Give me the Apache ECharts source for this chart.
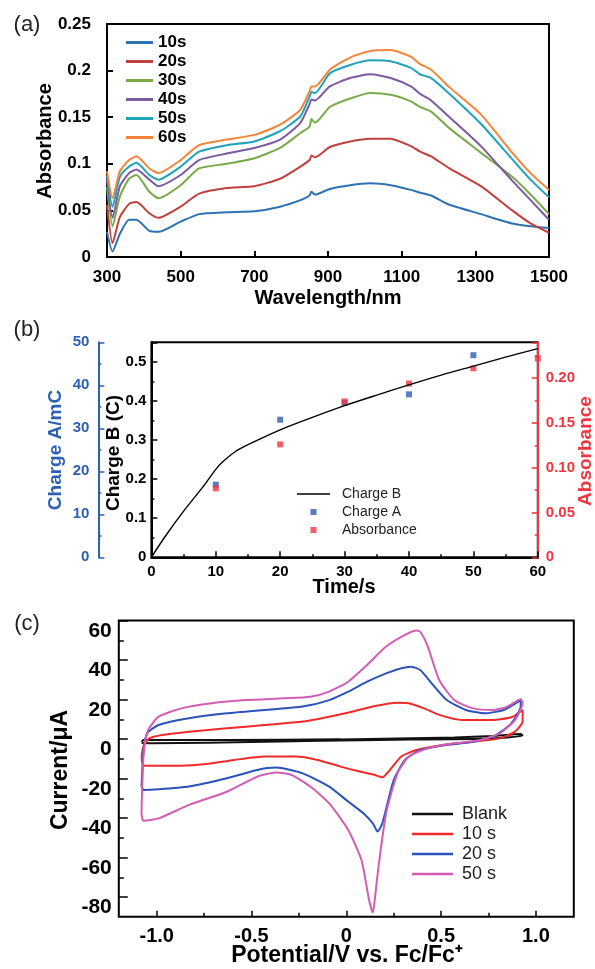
<!DOCTYPE html>
<html>
<head>
<meta charset="utf-8">
<script src="https://cdn.jsdelivr.net/npm/echarts@6.0.0/dist/echarts.min.js"></script>
<style>
  html, body { margin: 0; padding: 0; background: #fff; }
  #chart { width: 595px; height: 969px; }
</style>
</head>
<body>
<div id="chart"></div>
<script>
const FONT = '"Liberation Sans", Arial, Helvetica, sans-serif';

// ---- (a) absorbance spectra ----
const wavelength = [300, 315, 335, 360, 380, 415, 440, 500, 550, 625, 700, 770, 825, 850, 855, 865,
  905, 960, 1015, 1070, 1125, 1150, 1180, 1230, 1315, 1400, 1450, 1500];
const abs10s = [0.027, 0.006, 0.025, 0.040, 0.040, 0.028, 0.027, 0.038, 0.046, 0.048, 0.049, 0.054, 0.061, 0.066,
  0.070, 0.067, 0.073, 0.077, 0.079, 0.077, 0.072, 0.069, 0.066, 0.056, 0.046, 0.036, 0.033, 0.031];
const abs20s = [0.056, 0.015, 0.043, 0.057, 0.059, 0.047, 0.042, 0.054, 0.068, 0.074, 0.076, 0.084, 0.097, 0.104,
  0.109, 0.107, 0.118, 0.124, 0.127, 0.127, 0.119, 0.113, 0.108, 0.095, 0.076, 0.050, 0.036, 0.026];
const abs30s = [0.075, 0.033, 0.065, 0.084, 0.088, 0.070, 0.063, 0.077, 0.095, 0.100, 0.106, 0.117, 0.133, 0.140,
  0.148, 0.144, 0.161, 0.170, 0.176, 0.174, 0.167, 0.161, 0.156, 0.138, 0.112, 0.086, 0.067, 0.046];
const abs40s = [0.083, 0.042, 0.076, 0.090, 0.094, 0.083, 0.076, 0.088, 0.104, 0.111, 0.117, 0.126, 0.144, 0.164,
  0.169, 0.168, 0.183, 0.192, 0.196, 0.192, 0.183, 0.175, 0.168, 0.150, 0.119, 0.082, 0.061, 0.040];
const abs50s = [0.087, 0.054, 0.086, 0.097, 0.101, 0.088, 0.083, 0.097, 0.113, 0.120, 0.124, 0.135, 0.151, 0.172,
  0.177, 0.176, 0.197, 0.206, 0.211, 0.210, 0.203, 0.196, 0.192, 0.175, 0.143, 0.105, 0.083, 0.064];
const abs60s = [0.092, 0.063, 0.092, 0.104, 0.108, 0.095, 0.090, 0.104, 0.120, 0.126, 0.131, 0.142, 0.158, 0.178,
  0.183, 0.183, 0.201, 0.214, 0.221, 0.222, 0.215, 0.207, 0.201, 0.182, 0.153, 0.112, 0.090, 0.072];
const specNames = ['10s', '20s', '30s', '40s', '50s', '60s'];
const specColors = ['#2e72b3', '#c0403c', '#79aa48', '#7c5aa0', '#1ea3b9', '#f5843a'];
const wlTicks = [300, 500, 700, 900, 1100, 1300, 1500];

// ---- (b) charge / absorbance vs time ----
const timeLine = [0, 2, 5, 8, 10, 11, 13, 15, 20, 25, 30, 35, 40, 45, 50, 55, 60];
const chargeB = [0, 0.05, 0.118, 0.18, 0.225, 0.243, 0.27, 0.288, 0.326, 0.358, 0.388, 0.415, 0.441, 0.466, 0.489, 0.512, 0.534];
const timeA = [10, 20, 30, 40, 50];
const chargeA = [16.9, 32.0, 35.9, 37.9, 47.0];
const timeAbs = [10, 20, 30, 40, 50, 60];
const absPeak = [0.077, 0.126, 0.174, 0.194, 0.211, 0.222];

// ---- (c) cyclic voltammograms ----
const cvBlankE = [-1.08, -1.07, -0.63, -0.03, 0.57, 0.77, 0.92, 0.93, 0.77, 0.17, -0.43, -1.03, -1.08];
const cvBlankI = [-1.4, -0.5, -0.5, -0.2, 0.8, 1.5, 2.5, 1.7, 0.3, -0.5, -1.4, -2.2, -1.9];
const cv10E = [-1.08, -1.07, -1.04, -0.97, -0.83, -0.63, -0.43, -0.23, -0.09, 0.03, 0.15, 0.27, 0.33, 0.41, 0.49,
  0.61, 0.77, 0.87, 0.93, 0.93, 0.89, 0.81, 0.67, 0.51, 0.37, 0.29, 0.23, 0.19, 0.15, 0.07,
  -0.03, -0.15, -0.27, -0.43, -0.59, -0.75, -0.87, -1.03, -1.07, -1.08];
const cv10I = [-8.9, -3.9, 0.3, 2.0, 3.7, 5.4, 7.1, 8.8, 11.3, 13.8, 16.7, 18.4, 18.1, 15.5, 12.2,
  9.6, 9.6, 11.0, 14.7, 8.8, 3.7, 0.3, -1.4, -3.0, -5.6, -8.9, -15.7, -19.4, -18.2, -16.5,
  -14.0, -10.6, -8.9, -8.9, -10.6, -12.8, -13.5, -13.5, -13.5, -8.9];
const cv20E = [-1.08, -1.07, -1.05, -0.99, -0.83, -0.63, -0.43, -0.23, -0.09, 0.01, 0.11, 0.21, 0.29, 0.34, 0.39,
  0.45, 0.53, 0.63, 0.73, 0.83, 0.92, 0.92, 0.87, 0.79, 0.67, 0.53, 0.39, 0.31, 0.25, 0.19,
  0.165, 0.14, 0.09, 0.01, -0.09, -0.23, -0.37, -0.47, -0.63, -0.83, -0.99, -1.07, -1.08];
const cv20I = [-24.1, -5.6, 2.9, 7.1, 10.5, 13.0, 14.7, 16.4, 19.7, 24.0, 29.0, 33.2, 35.8, 36.6, 34.9,
  28.2, 19.7, 14.7, 13.0, 14.7, 19.7, 16.4, 7.9, 2.0, -1.4, -3.0, -5.6, -10.6, -20.8, -42.7,
  -46.9, -42.7, -37.6, -31.7, -24.1, -17.4, -14.5, -15.7, -19.9, -24.1, -25.5, -25.8, -24.1];
const cv50E = [-1.07, -1.06, -1.04, -0.99, -0.87, -0.71, -0.53, -0.33, -0.19, -0.09, 0.01, 0.11, 0.21, 0.31, 0.37,
  0.39, 0.43, 0.49, 0.57, 0.67, 0.77, 0.85, 0.92, 0.93, 0.89, 0.81, 0.71, 0.57, 0.43, 0.33,
  0.27, 0.21, 0.17, 0.15, 0.14, 0.12, 0.08, 0.01, -0.09, -0.19, -0.29, -0.37, -0.47, -0.63, -0.83,
  -0.99, -1.07, -1.08, -1.07];
const cv50I = [-8.9, -0.5, 5.4, 11.3, 15.5, 18.1, 19.7, 20.6, 21.4, 24.0, 29.0, 37.5, 46.8, 52.7, 54.9,
  54.3, 46.8, 29.9, 19.7, 15.5, 14.7, 16.4, 20.1, 18.1, 9.6, 2.9, -0.5, -2.2, -4.7, -8.9,
  -17.4, -37.6, -64.6, -81.5, -87.9, -81.5, -61.3, -46.1, -32.6, -24.1, -18.2, -17.0, -19.1, -26.7, -33.4,
  -40.2, -41.4, -37.6, -8.9];
const cvNames = ['Blank', '10 s', '20 s', '50 s'];
const cvColors = ['#111111', '#f42a2a', '#2a52b8', '#d35db5'];

const BLUE_B = '#2f5fb3';
const RED_B = '#f0353f';

const zip = (xs, ys) => xs.map((x, i) => [x, ys[i]]);

const lbl = (size, color, extra) => Object.assign({
  color: color || '#000', fontFamily: FONT, fontSize: size, fontWeight: 'bold',
}, extra || {});
const line2 = (color) => ({ show: true, onZero: false, lineStyle: { color: color || '#000', width: 2 } });
const noLine = { show: false, onZero: false };
const txt = (text, x, y, size, weight, color, vertical) => ({
  type: 'text',
  x,
  y,
  rotation: vertical ? Math.PI / 2 : 0,
  style: {
    text,
    font: `${weight} ${size}px ${FONT}`,
    fill: color || '#000',
    align: 'center',
    verticalAlign: 'middle',
  },
});

const specSeries = [abs10s, abs20s, abs30s, abs40s, abs50s, abs60s].map((vals, i) => ({
  name: specNames[i],
  type: 'line',
  xAxisIndex: 0,
  yAxisIndex: 0,
  data: zip(wavelength, vals),
  symbol: 'none',
  smooth: 0.2,
  color: specColors[i],
  lineStyle: { width: 2 },
}));

const cvSeries = [[cvBlankE, cvBlankI], [cv10E, cv10I], [cv20E, cv20I], [cv50E, cv50I]].map((d, i) => ({
  name: cvNames[i],
  type: 'line',
  xAxisIndex: 2,
  yAxisIndex: 4,
  data: zip(d[0], d[1]),
  symbol: 'none',
  smooth: 0.2,
  color: cvColors[i],
  lineStyle: { width: 2 },
}));

const lineIcon = 'path://M0,0M33,8M0,3.3L33,3.3L33,4.7L0,4.7Z';
const sqIcon = 'path://M0,0M33,8M13.5,1L19.5,1L19.5,7L13.5,7Z';

const chart = echarts.init(document.getElementById('chart'));
const option = {
  animation: false,
  backgroundColor: '#fff',
  grid: [
    { left: 107, right: 46, top: 24, bottom: 712, show: true, borderColor: '#000', borderWidth: 2, outerBoundsMode: 'none' },
    { left: 151.4, right: 57.2, top: 342.3, bottom: 411.7, show: true, borderColor: '#000', borderWidth: 2, outerBoundsMode: 'none' },
    { left: 118.8, right: 21.2, top: 620.5, bottom: 52.3, show: true, borderColor: '#000', borderWidth: 2, outerBoundsMode: 'none' },
    { left: 156.7, right: 59.1, top: 620.5, bottom: 72, show: false, outerBoundsMode: 'none' },
  ],
  xAxis: [
    {
      gridIndex: 0, type: 'value', min: 300, max: 1500,
      axisLine: line2(),
      axisTick: { inside: true, length: 6, customValues: wlTicks, lineStyle: { color: '#000', width: 2 } },
      axisLabel: lbl(17, '#000', { customValues: wlTicks, margin: 12, formatter: (v) => String(v) }),
      splitLine: { show: false },
    },
    {
      gridIndex: 1, type: 'value', min: 0, max: 60, interval: 10,
      axisLine: line2(),
      axisTick: { inside: true, length: 6, lineStyle: { color: '#000', width: 1.5 } },
      minorTick: { show: true, splitNumber: 2, length: 3, lineStyle: { color: '#000', width: 1.5 } },
      axisLabel: lbl(15, '#000', { margin: 7 }),
      splitLine: { show: false },
    },
    {
      gridIndex: 2, type: 'value', min: -1.2, max: 1.2,
      axisLine: noLine, axisTick: { show: false }, axisLabel: { show: false }, splitLine: { show: false },
    },
    {
      gridIndex: 3, type: 'value', min: -1, max: 1, interval: 0.5, offset: 19.7,
      axisLine: noLine,
      axisTick: { show: true, inside: true, length: 6, lineStyle: { color: '#000', width: 1.5 } },
      minorTick: { show: true, splitNumber: 2, length: 4, lineStyle: { color: '#000', width: 1.5 } },
      axisLabel: lbl(20, '#000', { margin: 10, formatter: (v) => (v === 0 ? '0' : v.toFixed(1)) }),
      splitLine: { show: false },
    },
  ],
  yAxis: [
    {
      gridIndex: 0, type: 'value', min: 0, max: 0.25, interval: 0.05,
      axisLine: line2(),
      axisTick: { inside: true, length: 6, lineStyle: { color: '#000', width: 2 } },
      axisLabel: lbl(17, '#000', { margin: 16 }),
      splitLine: { show: false },
    },
    {
      gridIndex: 1, type: 'value', position: 'left', offset: 53, min: 0, max: 50, interval: 10,
      axisLine: line2(BLUE_B),
      axisTick: { show: true, inside: true, length: 6, lineStyle: { color: BLUE_B, width: 1.5 } },
      minorTick: { show: true, splitNumber: 2, length: 3, lineStyle: { color: BLUE_B, width: 1.5 } },
      axisLabel: lbl(15, BLUE_B, { margin: 9 }),
      splitLine: { show: false },
    },
    {
      gridIndex: 1, type: 'value', position: 'left', offset: 0, min: 0, max: 0.55, interval: 0.1,
      axisLine: line2(),
      axisTick: { show: true, inside: true, length: 6, lineStyle: { color: '#000', width: 1.5 } },
      minorTick: { show: true, splitNumber: 2, length: 3, lineStyle: { color: '#000', width: 1.5 } },
      axisLabel: lbl(15, '#000', { margin: 5, showMaxLabel: false }),
      splitLine: { show: false },
    },
    {
      gridIndex: 1, type: 'value', position: 'right', min: 0, max: 0.24, interval: 0.05,
      axisLine: line2(RED_B),
      axisTick: { show: true, inside: true, length: 6, lineStyle: { color: RED_B, width: 1.5 } },
      minorTick: { show: true, splitNumber: 2, length: 3, lineStyle: { color: RED_B, width: 1.5 } },
      axisLabel: lbl(15, RED_B, { margin: 8, showMaxLabel: false, formatter: (v) => (v === 0 ? '0' : v.toFixed(2)) }),
      splitLine: { show: false },
    },
    {
      gridIndex: 2, type: 'value', min: -90, max: 60,
      axisLine: noLine, axisTick: { show: false }, axisLabel: { show: false }, splitLine: { show: false },
    },
    {
      gridIndex: 3, type: 'value', min: -80, max: 60, interval: 20, offset: 37.9,
      axisLine: noLine,
      axisTick: { show: true, inside: true, length: 9, lineStyle: { color: '#000', width: 1.5 } },
      minorTick: { show: true, splitNumber: 2, length: 5, lineStyle: { color: '#000', width: 1.5 } },
      axisLabel: lbl(21, '#000', { margin: 7, verticalAlign: 'top' }),
      splitLine: { show: false },
    },
  ],
  legend: [
    {
      data: specNames, left: 126, top: 33, padding: 0, orient: 'vertical', icon: 'rect',
      itemWidth: 27, itemHeight: 3, itemGap: 0,
      textStyle: { fontFamily: FONT, fontSize: 17, fontWeight: 'bold', color: '#000', lineHeight: 19 },
    },
    {
      data: [{ name: 'Charge B', icon: lineIcon }, { name: 'Charge A', icon: sqIcon }, { name: 'Absorbance', icon: sqIcon }],
      left: 297, top: 486, padding: 0, orient: 'vertical', itemWidth: 33, itemHeight: 8, itemGap: 2,
      textStyle: { fontFamily: FONT, fontSize: 14, color: '#222', lineHeight: 16, padding: [0, 0, 0, 7] },
    },
    {
      data: cvNames, left: 412, top: 805, padding: 0, orient: 'vertical', icon: 'rect',
      itemWidth: 41, itemHeight: 2.5, itemGap: 2,
      textStyle: { fontFamily: FONT, fontSize: 18, color: '#222', lineHeight: 18, padding: [0, 0, 0, 4] },
    },
  ],
  graphic: [
    txt('(a)', 27, 25, 22, 'normal', '#222'),
    txt('Absorbance', 45, 141, 20, 'bold', '#000', true),
    txt('Wavelength/nm', 328, 298, 20, 'bold'),
    txt('(b)', 27, 330, 22, 'normal', '#222'),
    txt('Charge A/mC', 55.5, 450, 19, 'bold', BLUE_B, true),
    txt('Charge B (C)', 114, 453, 19, 'bold', '#000', true),
    txt('Absorbance', 586, 451, 19, 'bold', RED_B, true),
    txt('Time/s', 344, 587, 20, 'bold'),
    txt('(c)', 27, 624, 22, 'normal', '#222'),
    txt('Current/μA', 61, 770, 23, 'bold', '#000', true),
    txt('Potential/V vs. Fc/Fc⁺', 347, 956, 23, 'bold'),
  ],
  series: [
    ...specSeries,
    {
      name: 'Charge B', type: 'line', xAxisIndex: 1, yAxisIndex: 2,
      data: zip(timeLine, chargeB), symbol: 'none', smooth: 0.3,
      color: '#000', lineStyle: { width: 1.4 },
    },
    {
      name: 'Charge A', type: 'scatter', xAxisIndex: 1, yAxisIndex: 1,
      data: zip(timeA, chargeA), symbol: 'rect', symbolSize: 6, color: BLUE_B,
    },
    {
      name: 'Absorbance', type: 'scatter', xAxisIndex: 1, yAxisIndex: 3,
      data: zip(timeAbs, absPeak), symbol: 'rect', symbolSize: 6, color: RED_B,
    },
    ...cvSeries,
  ],
};
chart.setOption(option);
</script>
</body>
</html>
